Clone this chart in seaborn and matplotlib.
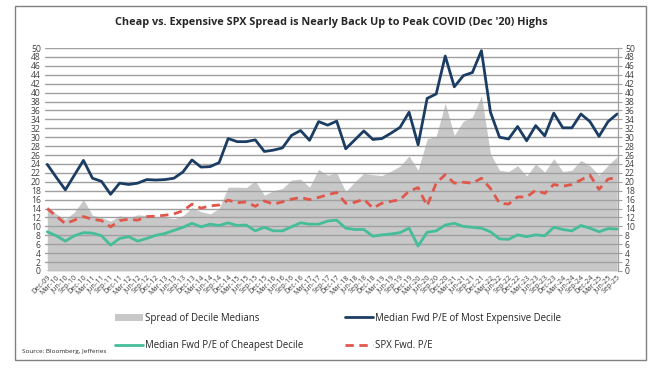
import matplotlib
matplotlib.use("Agg")
import matplotlib.pyplot as plt
from matplotlib.patches import Patch, Rectangle
from matplotlib.lines import Line2D
import seaborn as sns
import pandas as pd
import numpy as np

# ---- data ----
years = list(range(2010, 2026))
quarters = ["Dec-09"]
for y in years:
    for m in ["Mar", "Jun", "Sep", "Dec"]:
        if y == 2025 and m == "Dec":
            continue
        quarters.append(f"{m}-{str(y)[2:]}")

expensive = [23.9, 21.0, 18.2, 21.5, 24.8, 20.8, 20.1, 17.2, 19.7, 19.4,
             19.7, 20.5, 20.4, 20.5, 20.8, 22.2, 24.9, 23.3, 23.4, 24.3,
             29.7, 29.0, 29.0, 29.4, 26.8, 27.1, 27.6, 30.4, 31.5, 29.3,
             33.5, 32.7, 33.6, 27.4, 29.4, 31.4, 29.5, 29.7, 30.9, 32.2,
             35.6, 28.3, 38.7, 39.7, 48.2, 41.3, 43.8, 44.5, 49.4, 35.6,
             30.0, 29.6, 32.4, 29.2, 32.6, 30.3, 35.4, 32.1, 32.1, 35.2,
             33.5, 30.2, 33.5, 35.2]

cheapest = [8.8, 7.9, 6.7, 7.9, 8.6, 8.5, 7.9, 5.8, 7.3, 7.7,
            6.7, 7.3, 8.0, 8.4, 9.1, 9.8, 10.7, 9.9, 10.5, 10.2,
            10.8, 10.2, 10.3, 9.0, 9.8, 9.0, 9.0, 9.9, 10.8, 10.5,
            10.5, 11.2, 11.4, 9.6, 9.3, 9.3, 7.8, 8.1, 8.3, 8.6,
            9.6, 5.6, 8.7, 9.0, 10.3, 10.7, 10.0, 9.8, 9.6, 8.8,
            7.2, 7.1, 8.1, 7.7, 8.1, 7.9, 9.8, 9.3, 9.0, 10.2,
            9.6, 8.8, 9.5, 9.4]

spx = [14.0, 12.3, 10.6, 11.4, 12.2, 11.6, 11.3, 9.9, 11.3, 11.6,
       11.4, 12.2, 12.3, 12.5, 12.8, 13.5, 15.0, 14.1, 14.6, 14.8,
       15.9, 15.3, 15.5, 14.5, 15.7, 15.0, 15.5, 16.1, 16.5, 16.0,
       16.5, 17.1, 17.6, 15.2, 15.4, 16.1, 14.1, 15.2, 15.6, 16.0,
       17.9, 18.7, 14.6, 19.7, 21.6, 19.7, 19.9, 19.7, 20.8, 18.5,
       15.2, 15.0, 16.6, 16.6, 18.1, 17.4, 19.4, 19.0, 19.4, 20.4,
       21.5, 18.3, 20.6, 21.0]

spread = [14.5, 12.8, 11.6, 13.2, 16.0, 12.5, 12.0, 11.2, 12.4, 11.9,
          12.6, 12.4, 12.2, 12.1, 11.7, 12.4, 14.2, 13.3, 12.8, 14.0,
          18.8, 18.8, 18.7, 20.2, 17.0, 18.0, 18.5, 20.4, 20.6, 18.8,
          22.8, 21.5, 22.0, 17.8, 20.0, 21.9, 21.6, 21.4, 22.4, 23.5,
          25.8, 22.6, 29.6, 30.2, 37.6, 30.4, 33.6, 34.5, 39.3, 26.3,
          22.6, 22.3, 23.6, 21.3, 24.0, 22.2, 25.2, 22.3, 22.6, 24.8,
          23.6, 21.5, 23.7, 25.6]

y_ticks = list(range(0, 51, 2))

df = pd.DataFrame({"pos": np.arange(len(quarters)), "quarter": quarters,
                   "expensive": expensive, "cheapest": cheapest,
                   "spx": spx, "spread": spread})

# ---- style ----
sns.set_theme(style="white")
plt.rcParams["font.family"] = ["Open Sans", "DejaVu Sans"]

C_GRAY = "#C8C8C8"
C_BLUE = "#1C3D63"
C_GREEN = "#45BD98"
C_RED = "#E0574B"
C_GRID = "#A0A0A0"

fig = plt.figure(figsize=(6.61, 3.77), dpi=100)
ax = fig.add_axes([45/661, 1-271/377, (618-45)/661, (271-48)/377])

ax.fill_between(df["pos"], 0, df["spread"], color=C_GRAY, lw=0, zorder=1)
sns.lineplot(data=df, x="pos", y="expensive", ax=ax, color=C_BLUE, lw=2.0, zorder=4)
sns.lineplot(data=df, x="pos", y="cheapest", ax=ax, color=C_GREEN, lw=2.0, zorder=4)
sns.lineplot(data=df, x="pos", y="spx", ax=ax, color=C_RED, lw=2.0, zorder=4,
             linestyle=(0, (3, 2)))

ax.set_xlim(-0.25, len(quarters) - 0.9)
ax.set_ylim(0, 50)
ax.set_yticks(y_ticks)
ax.set_yticklabels([str(t) for t in y_ticks], fontsize=6.2, color="#404040")
ax.yaxis.grid(True, color=C_GRID, lw=1.0, zorder=2)
ax.set_axisbelow(False)
for gl in ax.get_ygridlines():
    gl.set_zorder(2)
ax.tick_params(axis="y", length=0, pad=3)
ax.set_xticks(df["pos"])
ax.set_xticklabels(quarters, rotation=45, ha="right", rotation_mode="anchor",
                   fontsize=5.2, color="#404040")
ax.tick_params(axis="x", length=0, pad=2)
ax.set_xlabel("")
ax.set_ylabel("")
for s in ["top", "right", "left", "bottom"]:
    ax.spines[s].set_visible(False)

ax2 = ax.twinx()
ax2.set_ylim(0, 50)
ax2.set_yticks(y_ticks)
ax2.set_yticklabels([str(t) for t in y_ticks], fontsize=6.2, color="#404040")
ax2.tick_params(axis="y", length=3, width=0.8, color="#A0A0A0", pad=2)
for s in ["top", "left", "bottom"]:
    ax2.spines[s].set_visible(False)
ax2.spines["right"].set_color("#A0A0A0")
ax2.spines["right"].set_linewidth(0.9)
ax2.grid(False)

fig.text(331/661, 1 - 22/377, "Cheap vs. Expensive SPX Spread is Nearly Back Up to Peak COVID (Dec '20) Highs",
         ha="center", va="center", fontsize=7.8, fontweight="bold", color="#262626")

handles = [Patch(facecolor=C_GRAY, edgecolor="none"),
           Line2D([], [], color=C_GREEN, lw=2.0),
           Line2D([], [], color=C_BLUE, lw=2.0),
           Line2D([], [], color=C_RED, lw=2.0, linestyle=(0, (3, 2)))]
labels = ["Spread of Decile Medians", "Median Fwd P/E of Cheapest Decile",
          "Median Fwd P/E of Most Expensive Decile", "SPX Fwd. P/E"]
fig.legend(handles, labels, ncol=2, loc="center", bbox_to_anchor=(338/661, 1 - 332/377),
           frameon=False, fontsize=6.9, handlelength=3.0, handleheight=0.7,
           columnspacing=4.3, labelspacing=1.7, handletextpad=0.2,
           labelcolor="#262626")

fig.text(22/661, 1 - 352/377, "Source: Bloomberg, Jefferies", fontsize=4.6,
         ha="left", va="center", color="#262626")

fig.patches.append(Rectangle((15/661, 1 - 360/377), (646-15)/661, (360-6)/377,
                             transform=fig.transFigure, fill=False,
                             edgecolor="#808080", lw=1.0))

fig.savefig("out.png", dpi=100)
